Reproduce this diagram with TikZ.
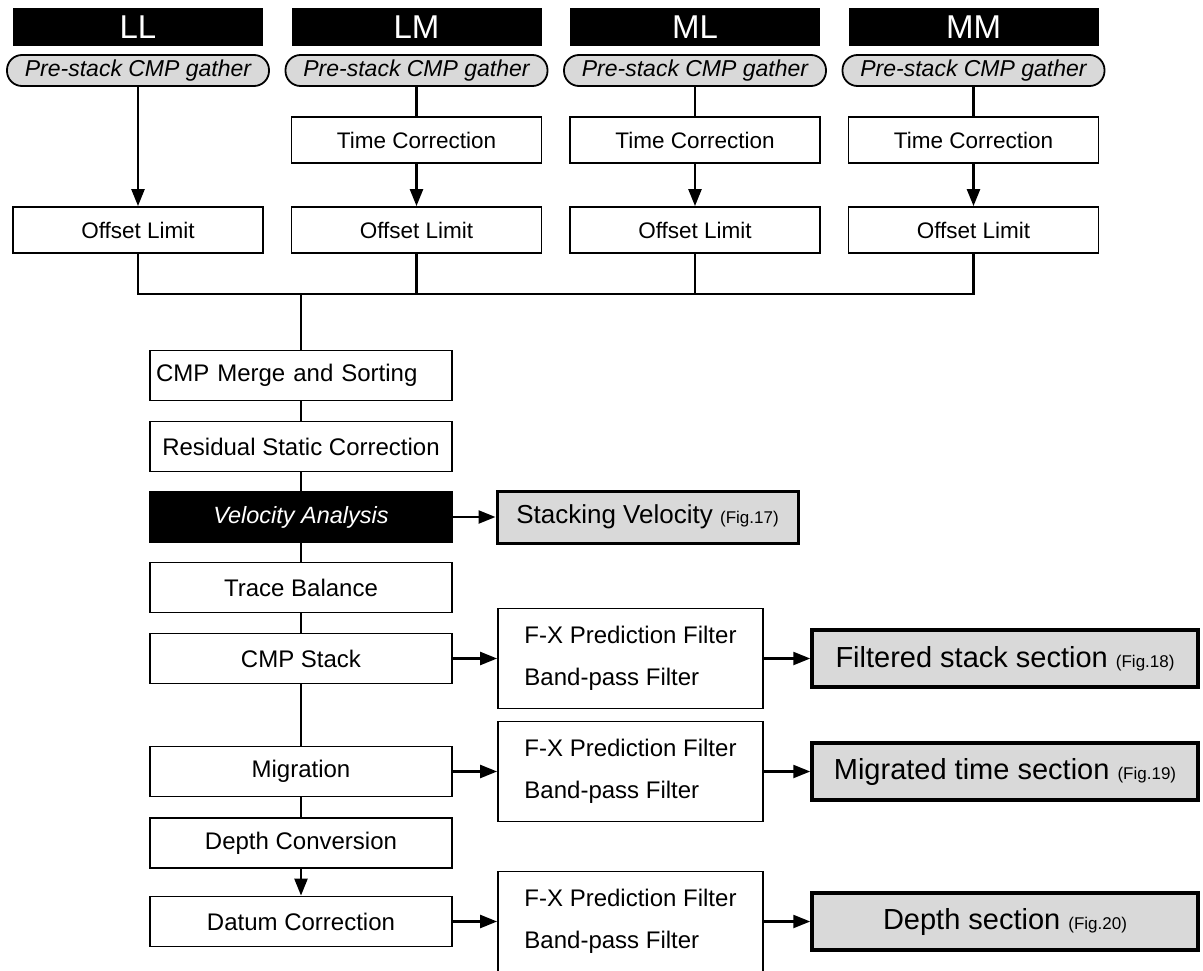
\documentclass[tikz,border=0pt]{standalone}
\usepackage{fontspec}
\setmainfont{Liberation Sans}
\usepackage{tikz}
\usetikzlibrary{arrows.meta, positioning}
\definecolor{boxgrey}{RGB}{217,217,217}
\newcommand{\figtag}[1]{{\fontsize{17}{20}\selectfont(#1)}}

\begin{document}
\begin{tikzpicture} [x=1pt, y=-1pt, node distance =71pt and 278.5pt, on grid, line width=2.4pt,
	hdr/.style ={fill=black, text=white, minimum width=250pt, minimum height=38pt, inner sep=0pt, font=\fontsize{33}{36}\selectfont},
	gather/.style ={draw, fill=boxgrey, line width=1.8pt, rounded corners=15pt, minimum width=262pt, minimum height=31pt, inner sep=0pt, font=\itshape\fontsize{23}{26}\selectfont},
	proc/.style ={draw, fill=white, line width=1.8pt, minimum width=250pt, minimum height=46pt, inner sep=0pt, font=\fontsize{22.5}{26}\selectfont},
	flow/.style ={draw, fill=white, line width=1.8pt, minimum width=302pt, minimum height=50pt, inner sep=0pt, font=\fontsize{24}{28}\selectfont},
	filt/.style ={draw, line width=1.8pt, minimum width=265pt, minimum height=100pt, inner sep=0pt, align=left, font=\fontsize{24}{42}\selectfont},
	result/.style ={draw, fill=boxgrey, line width=3.5pt, minimum width=386pt, minimum height=57pt, inner sep=0pt, font=\fontsize{29}{32}\selectfont},
	arr/.style ={-{Triangle[length=17pt, width=13pt]}}]
		\useasboundingbox (0,0) rectangle (1203,971);
		\node[hdr] (hLL) at (138,27) {LL};
		\node[hdr] (hLM) [right=of hLL] {LM};
		\node[hdr] (hML) [right=of hLM] {ML};
		\node[hdr] (hMM) [right=of hML] {MM};
		\node[gather] (gLL) [below=43.5pt of hLL] {Pre-stack CMP gather};
		\node[gather] (gLM) [below=43.5pt of hLM] {Pre-stack CMP gather};
		\node[gather] (gML) [below=43.5pt of hML] {Pre-stack CMP gather};
		\node[gather] (gMM) [below=43.5pt of hMM] {Pre-stack CMP gather};
		\node[proc] (tLM) [below=69.5pt of gLM] {Time Correction};
		\node[proc] (tML) [below=69.5pt of gML] {Time Correction};
		\node[proc] (tMM) [below=69.5pt of gMM] {Time Correction};
		\node[proc] (oLL) [below=159.5pt of gLL] {Offset Limit};
		\node[proc] (oLM) [below=90pt of tLM] {Offset Limit};
		\node[proc] (oML) [below=90pt of tML] {Offset Limit};
		\node[proc] (oMM) [below=90pt of tMM] {Offset Limit};
		\coordinate (merge) at (301,294);
		\node[flow, text width=290pt, align=left] (sort) at (301,375.5) {CMP Merge and Sorting};
		\node[flow] (resid) [below=of sort] {Residual Static Correction};
		\node[flow, fill=black, text=white, font=\itshape\fontsize{23.5}{28}\selectfont] (velo) [below=70.5pt of resid] {Velocity Analysis};
		\node[flow] (trace) [below=70.5pt of velo] {Trace Balance};
		\node[flow] (stack) [below=of trace] {CMP Stack};
		\node[flow] (migr) [below=113pt of stack] {Migration};
		\node[flow] (depth) [below=71.5pt of migr] {Depth Conversion};
		\node[flow] (datum) [below=78.5pt of depth] {Datum Correction};
		\node[result, line width=3pt, minimum width=301pt, minimum height=52pt, font=\fontsize{26}{28}\selectfont] (svel) [right=346.5pt of velo] {Stacking Velocity \figtag{Fig.17}};
		\node[filt] (fStack) [right=329.5pt of stack] {F-X Prediction Filter\\Band-pass Filter};
		\node[filt] (fMigr) [right=329.5pt of migr] {F-X Prediction Filter\\Band-pass Filter};
		\node[filt] (fDatum) [right=329.5pt of datum] {F-X Prediction Filter\\Band-pass Filter};
		\node[result] (rStack) [right=374.5pt of fStack] {Filtered stack section \figtag{Fig.18}};
		\node[result] (rMigr) [right=374.5pt of fMigr] {Migrated time section \figtag{Fig.19}};
		\node[result] (rDatum) [right=374.5pt of fDatum] {Depth section \figtag{Fig.20}};
		\path (gLL) edge[arr] (oLL);
		\path (gLM) edge (tLM);
		\path (gML) edge (tML);
		\path (gMM) edge (tMM);
		\path (tLM) edge[arr] (oLM);
		\path (tML) edge[arr] (oML);
		\path (tMM) edge[arr] (oMM);
		\draw (oLL) |- (merge) -| (oMM);
		\draw (oLM) |- (merge);
		\draw (oML) |- (merge);
		\path (merge) edge (sort);
		\path (sort) edge (resid);
		\path (resid) edge (velo);
		\path (velo) edge (trace);
		\path (trace) edge (stack);
		\path (stack) edge (migr);
		\path (migr) edge (depth);
		\path (depth) edge[arr] (datum);
		\path (velo) edge[arr] (svel);
		\path (stack) edge[arr] (fStack);
		\path (fStack) edge[arr] (rStack);
		\path (migr) edge[arr] (fMigr);
		\path (fMigr) edge[arr] (rMigr);
		\path (datum) edge[arr] (fDatum);
		\path (fDatum) edge[arr] (rDatum);
	\end{tikzpicture}
\end{document}
